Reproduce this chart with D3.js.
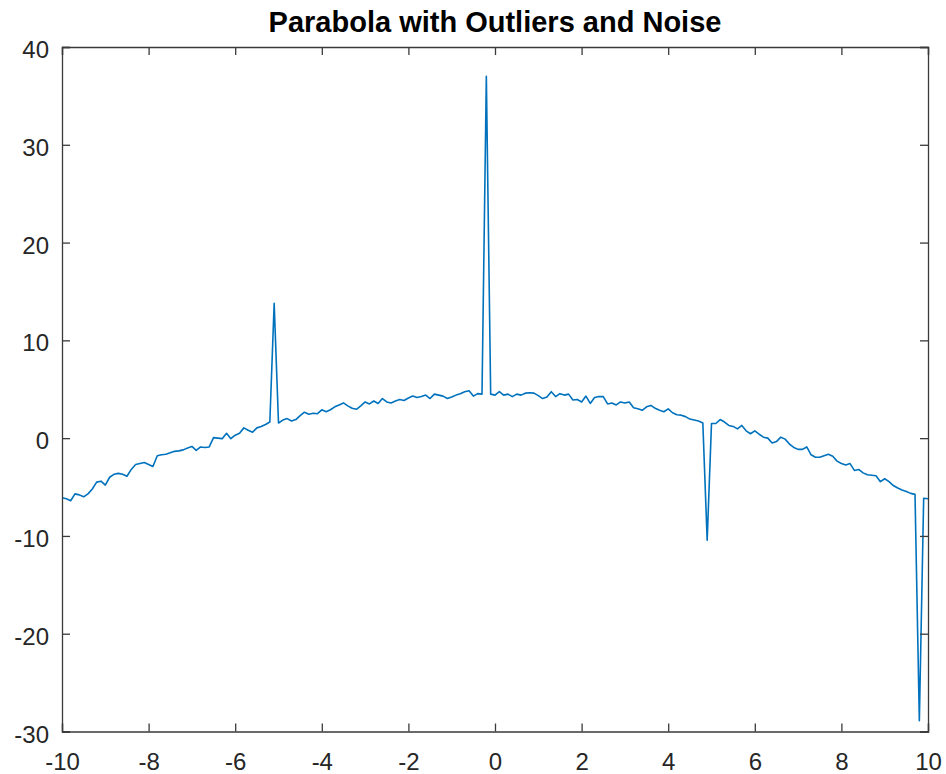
<!DOCTYPE html>
<html>
<head>
<meta charset="utf-8">
<script src="https://cdn.jsdelivr.net/npm/d3@7/dist/d3.min.js"></script>
<style>
  html, body { margin: 0; padding: 0; background: #fff; }
  svg { display: block; }
  text { font-family: "Liberation Sans", Arial, Helvetica, sans-serif; }
</style>
</head>
<body>
<svg id="chart" width="946" height="774"></svg>
<script>
// ---- data ----
const title = "Parabola with Outliers and Noise";
const xStart = -10, xStep = 0.1;
const yValues = [
  -6.1, -6.2, -6.4, -5.7, -5.8, -6.0, -5.7, -5.2, -4.5, -4.4,
  -4.8, -4.0, -3.7, -3.6, -3.7, -3.9, -3.2, -2.7, -2.6, -2.5,
  -2.7, -2.9, -1.8, -1.7, -1.65, -1.5, -1.35, -1.3, -1.2, -1.0,
  -0.85, -1.25, -0.9, -0.95, -0.9, 0.05, 0.0, -0.05, 0.5, -0.05,
  0.3, 0.5, 1.05, 0.8, 0.6, 1.05, 1.2, 1.4, 1.65, 13.8,
  1.55, 1.85, 2.0, 1.75, 1.9, 2.3, 2.65, 2.45, 2.55, 2.5,
  2.9, 2.7, 2.9, 3.2, 3.4, 3.6, 3.3, 3.05, 2.95, 3.3,
  3.7, 3.5, 3.8, 3.55, 4.05, 3.7, 3.6, 3.8, 3.95, 3.85,
  4.1, 4.3, 4.15, 4.25, 4.4, 4.05, 4.5, 4.4, 4.3, 4.05,
  4.2, 4.4, 4.55, 4.75, 4.85, 4.3, 4.55, 4.5, 37.0, 4.5,
  4.4, 4.75, 4.4, 4.5, 4.25, 4.5, 4.4, 4.6, 4.65, 4.6,
  4.35, 4.05, 4.2, 4.75, 4.25, 4.55, 4.4, 4.5, 3.9, 3.95,
  3.7, 4.3, 3.55, 4.15, 4.25, 4.25, 3.5, 3.6, 3.4, 3.7,
  3.6, 3.7, 3.1, 3.0, 2.85, 3.2, 3.35, 3.05, 2.85, 2.7,
  3.0, 2.6, 2.4, 2.35, 2.2, 1.95, 1.85, 1.75, 1.55, -10.45,
  1.5, 1.5, 1.9, 1.65, 1.3, 1.2, 0.95, 1.3, 0.75, 0.45,
  0.75, 0.4, 0.1, 0.0, -0.5, -0.35, 0.1, -0.1, -0.6, -0.95,
  -1.15, -1.15, -0.9, -1.7, -1.95, -1.95, -1.8, -1.65, -1.85, -2.35,
  -2.6, -2.75, -2.6, -3.3, -3.2, -3.55, -3.75, -3.8, -3.85, -4.45,
  -4.15, -4.45, -4.85, -5.1, -5.3, -5.45, -5.65, -5.75, -28.9, -6.15,
  -6.2
];
const xTicks = [-10, -8, -6, -4, -2, 0, 2, 4, 6, 8, 10];
const yTicks = [-30, -20, -10, 0, 10, 20, 30, 40];
const xDomain = [-10, 10];
const yDomain = [-30, 40];

(function () {
  // ---- layout ----
  const pL = 62, pR = 928, pT = 47, pB = 731.5;
  const svg = d3.select("#chart");
  const axisColor = "#3a3a3a";
  const labelColor = "#262626";

  const x = d3.scaleLinear().domain(xDomain).range([pL, pR]);
  const y = d3.scaleLinear().domain(yDomain).range([pB, pT]);

  const points = yValues.map((v, i) => ({ x: +(xStart + i * xStep).toFixed(1), y: v }));

  svg.append("path")
    .datum(points)
    .attr("fill", "none")
    .attr("stroke", "#0072BD")
    .attr("stroke-width", 1.6)
    .attr("stroke-linejoin", "round")
    .attr("d", d3.line().x(d => x(d.x)).y(d => y(d.y)));

  const tickLen = 8;
  const fontSize = 24;
  const fmt = d => String(d);

  const axB = svg.append("g").attr("transform", `translate(0,${pB})`)
    .call(d3.axisBottom(x).tickValues(xTicks).tickSize(-tickLen).tickPadding(21).tickFormat(fmt));
  const axT = svg.append("g").attr("transform", `translate(0,${pT})`)
    .call(d3.axisTop(x).tickValues(xTicks).tickSize(-tickLen).tickFormat(""));
  const axL = svg.append("g").attr("transform", `translate(${pL},0)`)
    .call(d3.axisLeft(y).tickValues(yTicks).tickSize(-tickLen).tickPadding(13).tickFormat(fmt));
  const axR = svg.append("g").attr("transform", `translate(${pR},0)`)
    .call(d3.axisRight(y).tickValues(yTicks).tickSize(-tickLen).tickFormat(""));

  [axB, axT, axL, axR].forEach(g => {
    g.select(".domain").attr("stroke", axisColor).attr("stroke-width", 1.3);
    g.selectAll(".tick line").attr("stroke", axisColor).attr("stroke-width", 1.3);
    g.selectAll(".tick text")
      .attr("fill", labelColor)
      .style("font-size", fontSize + "px")
      .style("font-family", "'Liberation Sans', Arial, sans-serif");
  });
  axL.selectAll(".tick text").attr("dy", "0.44em");

  svg.append("text")
    .attr("x", (pL + pR) / 2)
    .attr("y", 32)
    .attr("text-anchor", "middle")
    .attr("fill", "#000")
    .style("font-size", "29px")
    .style("font-weight", "bold")
    .text(title);
})();
</script>
</body>
</html>
